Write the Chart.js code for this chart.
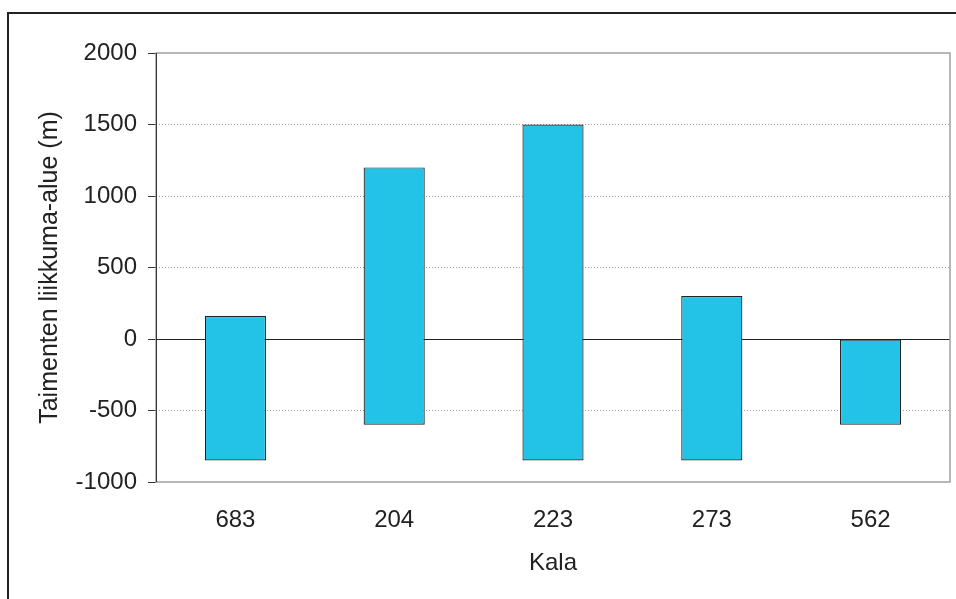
<!DOCTYPE html>
<html>
<head>
<meta charset="utf-8">
<script src="https://cdn.jsdelivr.net/npm/chart.js@4/dist/chart.umd.min.js"></script>
<style>
html,body{margin:0;padding:0;background:#fff;}
#wrap{position:relative;width:956px;height:599px;}
</style>
</head>
<body>
<div id="wrap"><canvas id="c" width="956" height="599"></canvas></div>
<script>
const categories = ['683', '204', '223', '273', '562'];
const rangeMin = [-850, -600, -850, -850, -600];
const rangeMax = [160, 1200, 1500, 300, 0];
const yTicks = [2000, 1500, 1000, 500, 0, -500, -1000];
const xTitle = 'Kala';
const yTitle = 'Taimenten liikkuma-alue (m)';

const FONT = "'Liberation Sans', Arial, sans-serif";
const FS = 24;

const framePlugin = {
  id: 'frame',
  beforeDraw(chart) {
    const ctx = chart.ctx;
    ctx.save();
    ctx.fillStyle = '#fff';
    ctx.fillRect(0, 0, chart.width, chart.height);
    ctx.fillStyle = '#222';
    ctx.fillRect(7, 12, 2, chart.height);
    ctx.fillRect(7, 12, chart.width, 2);
    ctx.restore();
  },
  beforeDatasetsDraw(chart) {
    const {ctx, chartArea: a} = chart;
    ctx.save();
    ctx.strokeStyle = '#a0a0a0';
    ctx.lineWidth = 1.5;
    ctx.strokeRect(a.left, a.top, a.right - a.left, a.bottom - a.top);
    ctx.strokeStyle = '#333';
    ctx.lineWidth = 1;
    ctx.beginPath();
    ctx.moveTo(a.left + 0.5, a.top);
    ctx.lineTo(a.left + 0.5, a.bottom);
    ctx.stroke();
    ctx.restore();
  }
};

new Chart(document.getElementById('c'), {
  type: 'bar',
  data: {
    labels: categories,
    datasets: [{
      data: rangeMin.map((v, i) => [v, rangeMax[i]]),
      backgroundColor: '#22c3e6',
      borderColor: '#222',
      borderWidth: 1.2,
      borderSkipped: false,
      barPercentage: 0.385,
      categoryPercentage: 1
    }]
  },
  options: {
    responsive: false,
    animation: false,
    devicePixelRatio: 1,
    layout: { padding: { left: 0, top: 53, right: 6, bottom: 0 } },
    plugins: { legend: { display: false }, tooltip: { enabled: false } },
    scales: {
      x: {
        afterFit(s) { s.height = 117; },
        grid: { display: false, drawTicks: false },
        border: { display: false },
        ticks: { color: '#222', font: { family: FONT, size: FS }, padding: 24 },
        title: { display: true, text: xTitle, color: '#222', font: { family: FONT, size: FS }, padding: { top: 0, bottom: 21 } }
      },
      y: {
        min: -1000, max: 2000,
        afterFit(s) { s.width = 156; },
        afterBuildTicks(s) { s.ticks = yTicks.map(v => ({ value: v })); },
        border: {
          display: false,
          dash: (c) => (c.tick && c.tick.value === 0) ? [] : [1, 2]
        },
        grid: {
          color: (c) => {
            const v = c.tick ? c.tick.value : null;
            if (v === 0) return '#222';
            if (v === 2000 || v === -1000) return 'rgba(0,0,0,0)';
            return '#9a9a9a';
          },
          lineWidth: 1,
          tickLength: 8,
          tickColor: '#333',
          tickBorderDash: [],
          tickWidth: 1
        },
        ticks: {
          color: '#222', font: { family: FONT, size: FS }, padding: 11,
          callback: (v) => String(v)
        },
        title: { display: true, text: yTitle, color: '#222', font: { family: FONT, size: 25 }, padding: { top: 35, bottom: 0 } }
      }
    }
  },
  plugins: [framePlugin]
});
</script>
</body>
</html>
